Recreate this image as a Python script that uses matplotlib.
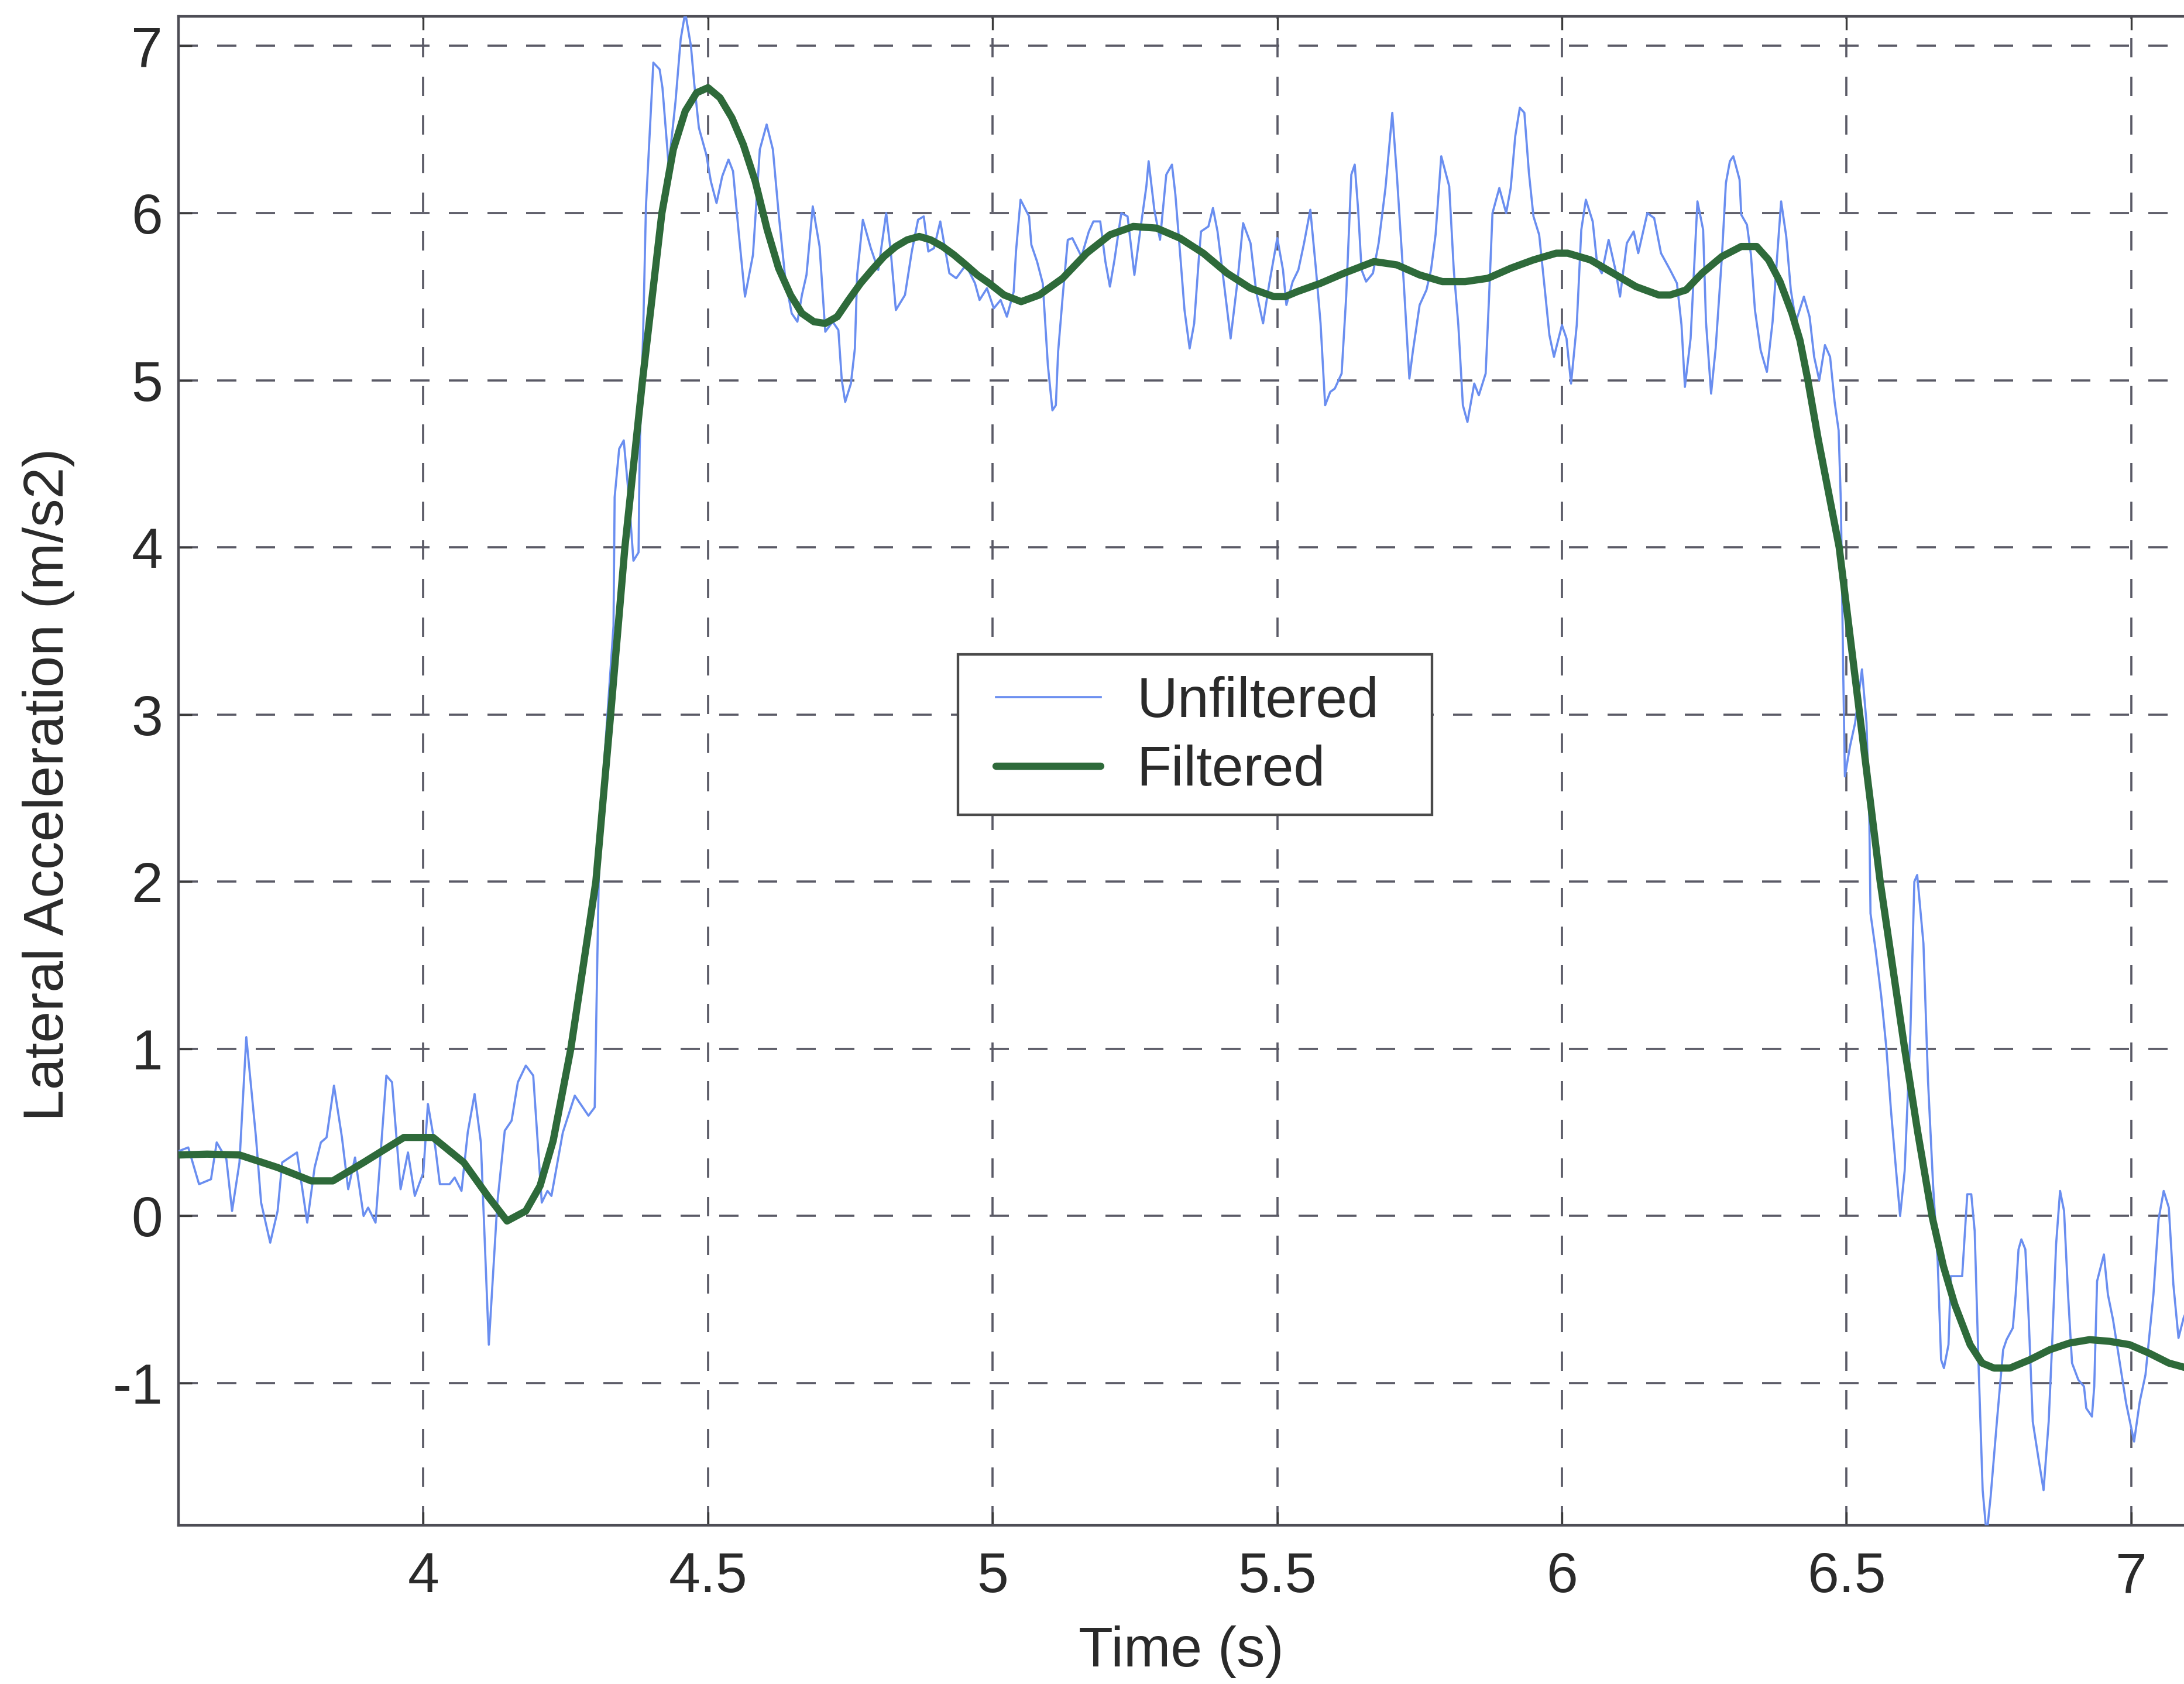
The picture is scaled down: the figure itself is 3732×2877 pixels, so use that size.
import matplotlib
matplotlib.use('Agg')
import matplotlib.pyplot as plt
from matplotlib.patches import Rectangle

plt.rcParams['font.family'] = ['Liberation Sans', 'DejaVu Sans']
plt.rcParams['axes.unicode_minus'] = False

# unfiltered lateral acceleration (time s, m/s2)
t_raw = [3.572, 3.587, 3.606, 3.627, 3.637, 3.654, 3.664, 3.677, 3.689, 3.706,
         3.715, 3.731, 3.744, 3.752, 3.778, 3.796, 3.809, 3.820, 3.830, 3.843,
         3.857, 3.868, 3.880, 3.895, 3.903, 3.916, 3.935, 3.945, 3.960, 3.973,
         3.985, 4.000, 4.008, 4.021, 4.029, 4.046, 4.055, 4.067, 4.078, 4.090,
         4.101, 4.115, 4.130, 4.143, 4.155, 4.166, 4.180, 4.193, 4.208, 4.218,
         4.225, 4.245, 4.266, 4.290, 4.301, 4.308, 4.313, 4.334, 4.336, 4.344,
         4.352, 4.361, 4.369, 4.378, 4.380, 4.386, 4.391, 4.404, 4.415, 4.420,
         4.431, 4.443, 4.452, 4.460, 4.470, 4.476, 4.484, 4.497, 4.505, 4.515,
         4.525, 4.536, 4.544, 4.554, 4.565, 4.579, 4.591, 4.603, 4.614, 4.624,
         4.636, 4.647, 4.657, 4.665, 4.673, 4.684, 4.696, 4.706, 4.719, 4.729,
         4.735, 4.741, 4.751, 4.758, 4.762, 4.772, 4.786, 4.799, 4.813, 4.821,
         4.830, 4.846, 4.858, 4.869, 4.879, 4.887, 4.897, 4.908, 4.924, 4.936,
         4.953, 4.969, 4.977, 4.990, 5.002, 5.014, 5.025, 5.037, 5.041, 5.049,
         5.064, 5.068, 5.078, 5.088, 5.097, 5.105, 5.111, 5.115, 5.123, 5.132,
         5.140, 5.156, 5.169, 5.177, 5.189, 5.198, 5.206, 5.214, 5.226, 5.237,
         5.249, 5.259, 5.270, 5.274, 5.284, 5.294, 5.305, 5.315, 5.321, 5.329,
         5.337, 5.346, 5.354, 5.362, 5.366, 5.379, 5.387, 5.395, 5.407, 5.418,
         5.430, 5.440, 5.453, 5.463, 5.475, 5.486, 5.500, 5.510, 5.516, 5.527,
         5.537, 5.547, 5.558, 5.568, 5.576, 5.584, 5.593, 5.601, 5.613, 5.621,
         5.630, 5.636, 5.642, 5.648, 5.656, 5.668, 5.678, 5.690, 5.702, 5.710,
         5.722, 5.732, 5.738, 5.750, 5.762, 5.770, 5.778, 5.788, 5.802, 5.810,
         5.818, 5.826, 5.834, 5.846, 5.854, 5.866, 5.872, 5.878, 5.890, 5.902,
         5.910, 5.918, 5.926, 5.934, 5.942, 5.950, 5.960, 5.970, 5.978, 5.986,
         6.000, 6.008, 6.016, 6.026, 6.034, 6.042, 6.054, 6.062, 6.070, 6.082,
         6.094, 6.102, 6.114, 6.126, 6.134, 6.150, 6.162, 6.174, 6.190, 6.202,
         6.210, 6.216, 6.226, 6.238, 6.248, 6.253, 6.262, 6.270, 6.281, 6.288,
         6.295, 6.301, 6.312, 6.315, 6.325, 6.332, 6.339, 6.349, 6.360, 6.370,
         6.378, 6.385, 6.394, 6.402, 6.411, 6.425, 6.435, 6.443, 6.452, 6.462,
         6.471, 6.479, 6.486, 6.490, 6.494, 6.497, 6.506, 6.515, 6.527, 6.535,
         6.540, 6.542, 6.551, 6.561, 6.570, 6.578, 6.587, 6.594, 6.602, 6.612,
         6.619, 6.624, 6.635, 6.643, 6.652, 6.660, 6.666, 6.671, 6.679, 6.683,
         6.691, 6.703, 6.712, 6.719, 6.725, 6.732, 6.739, 6.746, 6.753, 6.764,
         6.775, 6.781, 6.792, 6.797, 6.802, 6.807, 6.814, 6.820, 6.827, 6.837,
         6.846, 6.855, 6.861, 6.868, 6.875, 6.882, 6.889, 6.896, 6.907, 6.917,
         6.921, 6.931, 6.935, 6.940, 6.952, 6.959, 6.968, 6.980, 6.991, 7.005,
         7.015, 7.025, 7.039, 7.048, 7.057, 7.066, 7.074, 7.083, 7.092, 7.098]
a_raw = [0.39, 0.41, 0.19, 0.22, 0.44, 0.34, 0.03, 0.32, 1.07, 0.47,
         0.08, -0.16, 0.03, 0.32, 0.38, -0.04, 0.29, 0.44, 0.47, 0.78,
         0.47, 0.16, 0.35, 0.00, 0.05, -0.04, 0.84, 0.80, 0.16, 0.38,
         0.12, 0.26, 0.67, 0.41, 0.19, 0.19, 0.23, 0.15, 0.50, 0.73,
         0.44, -0.77, 0.08, 0.51, 0.57, 0.80, 0.90, 0.84, 0.08, 0.15,
         0.12, 0.50, 0.72, 0.60, 0.65, 2.00, 2.48, 3.53, 4.30, 4.59,
         4.64, 4.30, 3.92, 3.97, 4.59, 5.27, 6.04, 6.90, 6.86, 6.75,
         6.28, 6.67, 7.04, 7.20, 7.00, 6.77, 6.51, 6.35, 6.19, 6.06,
         6.22, 6.32, 6.25, 5.88, 5.50, 5.75, 6.38, 6.53, 6.38, 6.00,
         5.60, 5.40, 5.35, 5.51, 5.63, 6.04, 5.80, 5.29, 5.35, 5.30,
         5.00, 4.87, 4.98, 5.19, 5.63, 5.96, 5.79, 5.66, 6.00, 5.77,
         5.42, 5.51, 5.77, 5.96, 5.98, 5.77, 5.79, 5.95, 5.64, 5.61,
         5.69, 5.58, 5.48, 5.55, 5.43, 5.48, 5.38, 5.53, 5.77, 6.08,
         5.98, 5.81, 5.71, 5.58, 5.09, 4.82, 4.85, 5.17, 5.50, 5.84,
         5.85, 5.74, 5.89, 5.95, 5.95, 5.71, 5.56, 5.72, 6.00, 5.98,
         5.63, 5.89, 6.16, 6.31, 6.02, 5.84, 6.23, 6.29, 6.11, 5.77,
         5.42, 5.19, 5.34, 5.72, 5.89, 5.92, 6.03, 5.89, 5.56, 5.25,
         5.59, 5.94, 5.82, 5.53, 5.34, 5.58, 5.85, 5.66, 5.45, 5.59,
         5.66, 5.82, 6.02, 5.66, 5.34, 4.85, 4.93, 4.95, 5.04, 5.50,
         6.23, 6.29, 6.02, 5.66, 5.59, 5.64, 5.82, 6.15, 6.60, 6.23,
         5.59, 5.01, 5.17, 5.45, 5.54, 5.66, 5.87, 6.34, 6.16, 5.66,
         5.33, 4.85, 4.75, 4.98, 4.91, 5.04, 5.50, 6.00, 6.15, 6.00,
         6.15, 6.46, 6.63, 6.60, 6.24, 5.98, 5.87, 5.54, 5.27, 5.14,
         5.33, 5.25, 4.98, 5.33, 5.90, 6.08, 5.95, 5.69, 5.64, 5.84,
         5.66, 5.50, 5.82, 5.89, 5.76, 6.00, 5.97, 5.76, 5.66, 5.58,
         5.33, 4.96, 5.25, 6.07, 5.90, 5.35, 4.92, 5.19, 5.74, 6.18,
         6.31, 6.34, 6.20, 5.99, 5.93, 5.75, 5.42, 5.18, 5.05, 5.35,
         5.74, 6.07, 5.86, 5.54, 5.35, 5.50, 5.38, 5.14, 5.00, 5.21,
         5.14, 4.87, 4.70, 4.26, 3.27, 2.63, 2.81, 2.95, 3.27, 2.95,
         2.36, 1.81, 1.59, 1.31, 1.00, 0.63, 0.27, 0.00, 0.27, 1.09,
         2.00, 2.04, 1.63, 0.81, 0.18, -0.27, -0.86, -0.91, -0.77, -0.36,
         -0.36, -0.36, 0.13, 0.13, -0.09, -0.91, -1.64, -1.91, -1.68, -1.23,
         -0.80, -0.74, -0.67, -0.47, -0.20, -0.14, -0.20, -0.62, -1.23, -1.45,
         -1.64, -1.23, -0.77, -0.17, 0.15, 0.03, -0.47, -0.88, -0.98, -1.02,
         -1.15, -1.20, -1.02, -0.39, -0.23, -0.47, -0.62, -0.88, -1.12, -1.35,
         -1.11, -0.95, -0.47, -0.02, 0.15, 0.05, -0.41, -0.73, -0.61, -0.56]

# filtered signal
t_filt = [3.572, 3.620, 3.677, 3.744, 3.803, 3.841, 3.895, 3.966, 4.017, 4.071,
          4.113, 4.147, 4.180, 4.205, 4.228, 4.259, 4.303, 4.329, 4.354, 4.385,
          4.419, 4.439, 4.460, 4.480, 4.500, 4.521, 4.542, 4.562, 4.583, 4.604,
          4.624, 4.645, 4.665, 4.686, 4.706, 4.727, 4.747, 4.768, 4.788, 4.809,
          4.830, 4.850, 4.871, 4.891, 4.912, 4.932, 4.953, 4.973, 4.994, 5.020,
          5.050, 5.082, 5.123, 5.165, 5.206, 5.247, 5.288, 5.329, 5.370, 5.412,
          5.453, 5.494, 5.514, 5.535, 5.576, 5.617, 5.670, 5.710, 5.750, 5.790,
          5.830, 5.870, 5.910, 5.950, 5.990, 6.010, 6.050, 6.090, 6.130, 6.170,
          6.190, 6.218, 6.246, 6.281, 6.315, 6.342, 6.363, 6.383, 6.404, 6.418,
          6.432, 6.450, 6.487, 6.523, 6.559, 6.602, 6.625, 6.650, 6.670, 6.690,
          6.717, 6.738, 6.759, 6.787, 6.822, 6.857, 6.892, 6.927, 6.962, 6.997,
          7.031, 7.066, 7.098]
a_filt = [0.365, 0.37, 0.365, 0.29, 0.21, 0.21, 0.32, 0.47, 0.47, 0.32,
          0.12, -0.03, 0.03, 0.18, 0.45, 1.00, 2.00, 3.00, 4.00, 5.00,
          6.00, 6.38, 6.61, 6.72, 6.75, 6.69, 6.57, 6.41, 6.19, 5.90,
          5.67, 5.51, 5.40, 5.35, 5.34, 5.38, 5.48, 5.58, 5.66, 5.74,
          5.80, 5.84, 5.86, 5.84, 5.80, 5.75, 5.69, 5.63, 5.58, 5.51,
          5.47, 5.51, 5.61, 5.76, 5.87, 5.92, 5.91, 5.85, 5.76, 5.64,
          5.55, 5.50, 5.50, 5.53, 5.58, 5.64, 5.71, 5.69, 5.63, 5.59,
          5.59, 5.61, 5.67, 5.72, 5.76, 5.76, 5.72, 5.64, 5.56, 5.51,
          5.51, 5.54, 5.64, 5.74, 5.80, 5.80, 5.72, 5.59, 5.40, 5.24,
          5.00, 4.65, 4.00, 3.00, 2.00, 1.00, 0.50, 0.00, -0.30, -0.53,
          -0.77, -0.88, -0.91, -0.91, -0.86, -0.80, -0.76, -0.74, -0.75, -0.77,
          -0.82, -0.88, -0.91]

x_ticks = [4, 4.5, 5, 5.5, 6, 6.5, 7]
x_tick_labels = ['4', '4.5', '5', '5.5', '6', '6.5', '7']
y_ticks = [-1, 0, 1, 2, 3, 4, 5, 6, 7]
y_tick_labels = ['-1', '0', '1', '2', '3', '4', '5', '6', '7']

BLUE = '#6a8ef0'
GREEN = '#2e6a3a'
GRID = '#5a5a66'
TXT = '#2a2a2a'

fig = plt.figure(figsize=(3732 / 240, 2877 / 240), dpi=240)
ax = fig.add_axes([0.0816, 0.0943, 0.9384, 0.8958])

ax.plot(t_raw, a_raw, color=BLUE, lw=1.1, label='Unfiltered', zorder=3)
ax.plot(t_filt, a_filt, color=GREEN, lw=3.7, label='Filtered', zorder=4,
        solid_capstyle='round', solid_joinstyle='round')

ax.set_xlim(3.5694, 7.1694)
ax.set_ylim(-1.85, 7.175)
ax.set_xticks(x_ticks)
ax.set_xticklabels(x_tick_labels)
ax.set_yticks(y_ticks)
ax.set_yticklabels(y_tick_labels)

ax.grid(True, color=GRID, lw=1.1, ls=(0, (9, 9)))
ax.set_axisbelow(True)
ax.tick_params(direction='in', length=7, width=1.0, labelsize=29,
               labelcolor=TXT, color='#3a3a3a', top=True, right=True)
ax.tick_params(axis='y', pad=7.9)
ax.tick_params(axis='x', pad=13.3)
for s in ax.spines.values():
    s.set_color('#4d4d55')
    s.set_linewidth(1.3)

fig.text(0.0223, 0.5343, 'Lateral Acceleration (m/s2)', rotation=90,
         ha='center', va='center', fontsize=29, color=TXT)
fig.text(0.5408, 0.019, 'Time (s)', ha='center', va='center',
         fontsize=29, color=TXT)

# legend box
frame = Rectangle((0.3806, 0.4709), 0.2311, 0.1062, transform=ax.transAxes,
                  facecolor='white', edgecolor='#4a4a4a', lw=1.3, zorder=4.5)
ax.add_patch(frame)
leg = ax.legend(loc='center left', bbox_to_anchor=(0.399, 0.5226), frameon=False,
                fontsize=29, handlelength=1.85, handletextpad=0.64,
                labelspacing=0.28, borderpad=0, borderaxespad=0, labelcolor=TXT)
leg.set_zorder(5)

fig.savefig('out.png', dpi=240)
